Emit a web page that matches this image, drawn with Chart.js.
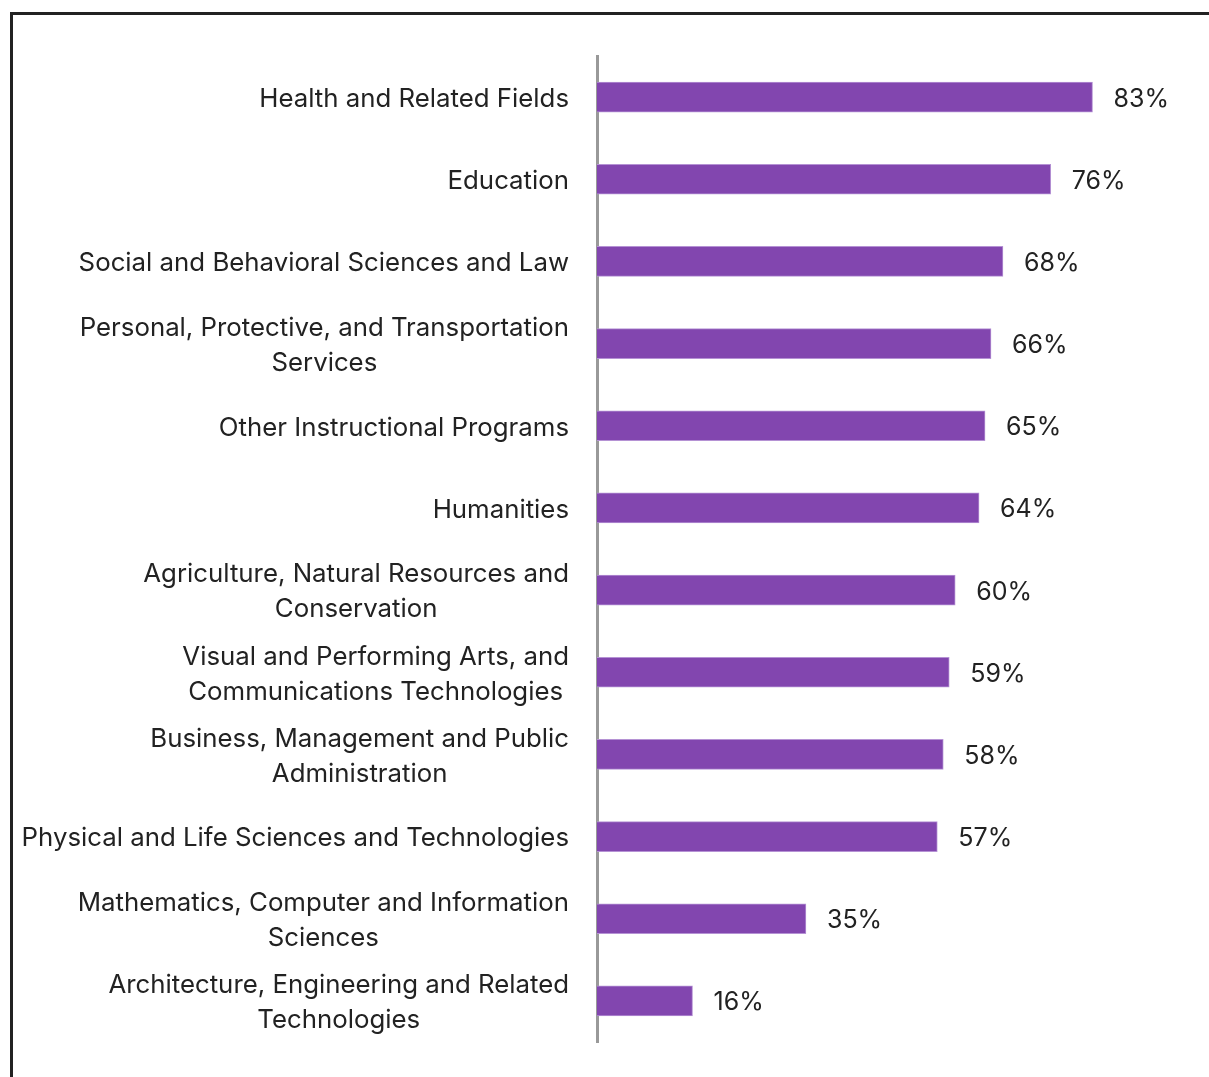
<!DOCTYPE html>
<html>
<head>
<meta charset="utf-8">
<script src="https://cdn.jsdelivr.net/npm/chart.js@4/dist/chart.umd.min.js"></script>
<style>
  html, body { margin: 0; padding: 0; background: #fff; overflow: hidden; }
  #frame { position: absolute; left: 10px; top: 12px; width: 1300px; height: 1200px; border: 3px solid #222; box-sizing: border-box; }
  #wrap { position: absolute; left: 0; top: 0; width: 1209px; height: 1077px; }
</style>
</head>
<body>
<div id="frame"></div>
<div id="wrap"><canvas id="chart" width="1209" height="1077"></canvas></div>
<script>
// categories, top to bottom (arrays = wrapped lines)
const fields = [
  'Health and Related Fields',
  'Education',
  'Social and Behavioral Sciences and Law',
  ['Personal, Protective, and Transportation', 'Services'],
  'Other Instructional Programs',
  'Humanities',
  ['Agriculture, Natural Resources and', 'Conservation'],
  ['Visual and Performing Arts, and', 'Communications Technologies'],
  ['Business, Management and Public', 'Administration'],
  'Physical and Life Sciences and Technologies',
  ['Mathematics, Computer and Information', 'Sciences'],
  ['Architecture, Engineering and Related', 'Technologies']
];
const shares = [83, 76, 68, 66, 65, 64, 60, 59, 58, 57, 35, 16];

const fontFam = 'Inter, "Liberation Sans", Arial, sans-serif';

// category labels: block right-aligned to the axis, lines centered within the block
const categoryLabels = {
  id: 'categoryLabels',
  afterDraw(chart) {
    const c = chart.ctx;
    const yScale = chart.scales.y;
    const right = chart.chartArea.left - 28;
    const lineH = 35;
    c.save();
    c.font = '25.8px ' + fontFam;
    c.fillStyle = '#222';
    c.textAlign = 'center';
    c.textBaseline = 'middle';
    fields.forEach((lbl, i) => {
      const lines = Array.isArray(lbl) ? lbl : [lbl];
      const widest = Math.max(...lines.map(l => c.measureText(l).width));
      const cx = right - widest / 2;
      const yc = yScale.getPixelForTick(i);
      const y0 = yc - (lines.length - 1) * lineH / 2;
      lines.forEach((l, j) => c.fillText(l, cx, y0 + j * lineH + 2));
    });
    c.restore();
  }
};

// draws the % next to each bar
const valueLabels = {
  id: 'valueLabels',
  afterDatasetsDraw(chart) {
    const c = chart.ctx;
    const meta = chart.getDatasetMeta(0);
    c.save();
    c.font = '25px ' + fontFam;
    c.fillStyle = '#222';
    c.textAlign = 'left';
    c.textBaseline = 'middle';
    meta.data.forEach((bar, i) => {
      c.fillText(shares[i] + '%', bar.x + 21, bar.y + 2);
    });
    c.restore();
  }
};

let ctx = document.getElementById('chart');
let myChart = new Chart(ctx, {
  type: 'bar',
  data: {
    labels: fields,
    datasets: [{
      data: shares,
      backgroundColor: '#8246AF',
      borderColor: '#b592d4',
      borderWidth: 1,
      borderSkipped: 'left',
      barThickness: 30
    }]
  },
  options: {
    indexAxis: 'y',
    responsive: false,
    animation: false,
    layout: { padding: { top: 56, bottom: 35, right: 15, left: 0 } },
    plugins: { legend: { display: false }, tooltip: { enabled: false } },
    scales: {
      x: { display: false, min: 0, max: 100 },
      y: {
        afterFit(scale) { scale.width = 597; },
        grid: { display: false, drawTicks: false },
        border: { display: true, color: '#999', width: 3 },
        ticks: { display: false }
      }
    }
  },
  plugins: [valueLabels, categoryLabels]
});
</script>
</body>
</html>
